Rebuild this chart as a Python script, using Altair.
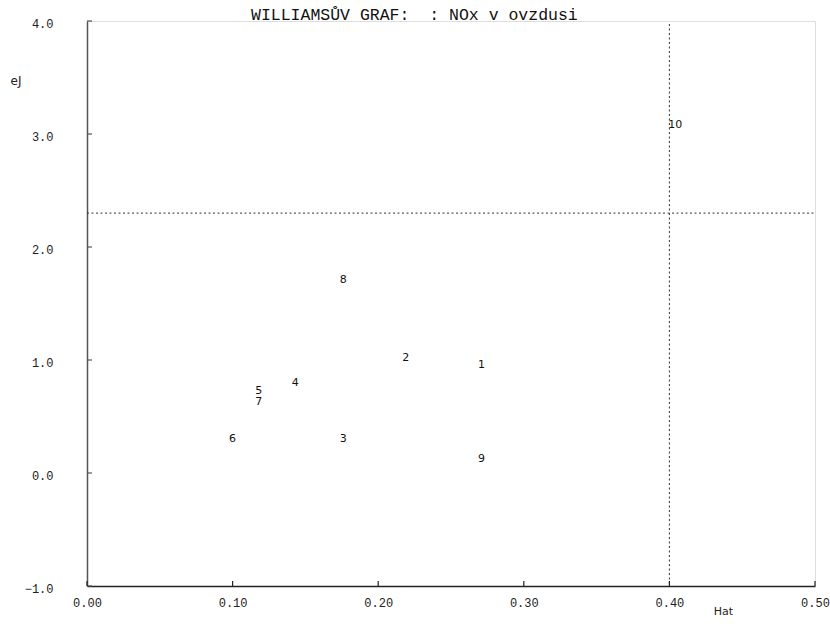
import altair as alt
import pandas as pd

# Williams plot: hat values vs. jackknife residuals, NOx in the air
obs = ["1", "2", "3", "4", "5", "6", "7", "8", "9", "10"]
hat = [0.271, 0.219, 0.176, 0.143, 0.118, 0.100, 0.118, 0.176, 0.271, 0.404]
ej = [0.96, 1.02, 0.30, 0.80, 0.73, 0.30, 0.63, 1.71, 0.12, 3.08]

hat_limit = 0.40      # 2p/n
ej_limit = 2.30       # residual cut-off

x_ticks = [0.0, 0.1, 0.2, 0.3, 0.4, 0.5]
y_ticks = [-1.0, 0.0, 1.0, 2.0, 3.0, 4.0]

W, H = 728, 565

pts = pd.DataFrame({"obs": obs, "hat": hat, "ej": ej})
xt = pd.DataFrame({"hat": x_ticks})
yt = pd.DataFrame({"ej": y_ticks})

xs = alt.Scale(domain=[0, 0.5], nice=False, zero=False)
ys = alt.Scale(domain=[-1, 4], nice=False, zero=False)

mono = "Liberation Mono"

x_axis = alt.Axis(
    values=x_ticks, format=".2f", ticks=False, grid=False, labelFlush=False,
    domainColor="#222", domainWidth=1.5,
    labelFont=mono, labelFontSize=12, labelColor="#222", labelPadding=11,
    title="Hat", titleFont="DejaVu Sans", titleFontSize=11, titleFontWeight="normal",
    titleColor="#222", titleX=636, titleY=25, titleAlign="center", titleBaseline="middle",
)
y_axis = alt.Axis(
    values=y_ticks, format=".1f", ticks=False, grid=False, labelFlush=False,
    domainColor="#555", domainWidth=1.5,
    labelFont=mono, labelFontSize=12, labelColor="#222", labelPadding=34, labelOffset=2,
    title="eJ", titleFont="DejaVu Sans", titleFontSize=12, titleFontWeight="normal",
    titleColor="#222", titleAngle=0, titleX=-77, titleY=59, titleAlign="left",
    titleBaseline="middle",
)

X = alt.X("hat:Q", scale=xs, axis=x_axis)
Y = alt.Y("ej:Q", scale=ys, axis=y_axis)

base = alt.Chart(pts).mark_text(
    font="DejaVu Sans", fontSize=11, color="#111", align="center", baseline="middle"
).encode(x=X, y=Y, text="obs:N")

# inward tick marks
y_tick_marks = alt.Chart(yt).mark_rule(color="#555", strokeWidth=1.2).encode(
    y=Y, x=alt.value(0), x2=alt.value(5)
)
x_tick_marks = alt.Chart(xt).mark_rule(color="#222", strokeWidth=1.2).encode(
    x=X, y=alt.value(H), y2=alt.value(H - 5)
)

# reference limits
vline = alt.Chart(pd.DataFrame({"hat": [hat_limit]})).mark_rule(
    color="#333", strokeWidth=1, strokeDash=[2, 2.5]
).encode(x=X, y=alt.value(3), y2=alt.value(H))
hline = alt.Chart(pd.DataFrame({"ej": [ej_limit]})).mark_rule(
    color="#333", strokeWidth=1, strokeDash=[2, 2.5]
).encode(y=Y, x=alt.value(0), x2=alt.value(W))

chart = alt.layer(base, vline, hline, y_tick_marks, x_tick_marks).properties(
    width=W, height=H,
    title=alt.TitleParams(
        "WILLIAMSŮV GRAF:\u00a0\u00a0: NOx v ovzdusi",
        font=mono, fontSize=16.5, fontWeight="normal", color="#111",
        anchor="start", frame="group", dx=164, offset=-19, baseline="alphabetic",
    ),
    autosize=alt.AutoSizeParams(type="none"),
    padding={"left": 87, "top": 21, "right": 15, "bottom": 38},
).configure_view(strokeWidth=0).configure(background="white")

chart.save("out.html", embed_options={"renderer": "svg", "actions": False})
